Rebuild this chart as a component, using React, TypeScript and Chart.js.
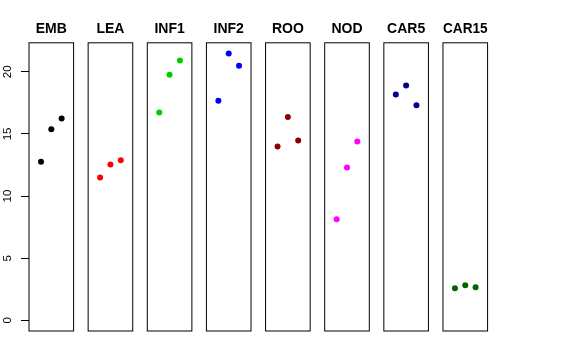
import React, { useEffect, useRef } from "react";
import { Chart, registerables } from "chart.js";

Chart.register(...registerables);

const FAMILY = "'Liberation Sans', Arial, Helvetica, sans-serif";

const panels = ["EMB", "LEA", "INF1", "INF2", "ROO", "NOD", "CAR5", "CAR15"];
const colors = ["#000000", "#FF0000", "#00CD00", "#0000FF", "#8B0000", "#FF00FF", "#00008B", "#006400"];
const positions = [1, 2, 3];

const EMB = [12.76, 15.39, 16.25];
const LEA = [11.49, 12.54, 12.89];
const INF1 = [16.73, 19.77, 20.92];
const INF2 = [17.67, 21.48, 20.49];
const ROO = [13.99, 16.36, 14.47];
const NOD = [8.14, 12.3, 14.39];
const CAR5 = [18.18, 18.91, 17.32];
const CAR15 = [2.58, 2.82, 2.66];

const values = [EMB, LEA, INF1, INF2, ROO, NOD, CAR5, CAR15];
const yTicks = [0, 5, 10, 15, 20];

const W = 576;
const H = 360;
const FIRST_LEFT = 29;
const STEP = 59.14;
const PANEL_W = 44.6;
const TOP_PAD = 21;
const BOTTOM = 331;

const dataMax = Math.max(...values.flat());
const yMin = 0 - 0.04 * dataMax;
const yMax = dataMax + 0.04 * dataMax;

const boxPlugin = {
  id: "panelBox",
  afterDraw(chart: any) {
    const { ctx, chartArea } = chart;
    const { left, top, right, bottom } = chartArea;
    ctx.save();
    ctx.strokeStyle = "#000";
    ctx.lineWidth = 1;
    ctx.strokeRect(left, top, right - left, bottom - top);
    ctx.restore();
  },
};

function Panel({ index }: { index: number }) {
  const ref = useRef<HTMLCanvasElement>(null);
  useEffect(() => {
    const left = FIRST_LEFT + STEP * index;
    const right = W - (left + PANEL_W);
    const first = index === 0;
    const chart = new Chart(ref.current as HTMLCanvasElement, {
      type: "scatter",
      data: {
        datasets: [
          {
            data: positions.map((x, j) => ({ x, y: values[index][j] })),
            backgroundColor: colors[index],
            borderColor: colors[index],
            pointRadius: 3,
            pointHoverRadius: 3,
            borderWidth: 0,
          },
        ],
      },
      options: {
        responsive: false,
        animation: false,
        events: [],
        layout: {
          padding: { left: first ? 0 : left, right, top: TOP_PAD, bottom: H - BOTTOM },
        },
        plugins: {
          legend: { display: false },
          tooltip: { enabled: false },
          title: {
            display: true,
            text: panels[index],
            fullSize: false,
            color: "#000",
            font: { size: 14, weight: "bold", family: FAMILY, lineHeight: 1.2 },
            padding: { top: 0, bottom: 5 },
          },
        },
        scales: {
          x: { type: "linear", display: false, min: -0.16, max: 4.16 },
          y: {
            display: first,
            min: yMin,
            max: yMax,
            afterFit: (s: any) => {
              if (first) s.width = FIRST_LEFT;
            },
            afterBuildTicks: (s: any) => {
              s.ticks = yTicks.map((v) => ({ value: v }));
            },
            grid: { drawOnChartArea: false, drawTicks: true, tickLength: 8, color: "#000" },
            border: { display: false },
            ticks: {
              minRotation: 90,
              maxRotation: 90,
              crossAlign: "center",
              padding: 6.5,
              color: "#000",
              font: { size: 11.5, family: FAMILY },
            },
          },
        },
      } as any,
      plugins: [boxPlugin],
    });
    return () => chart.destroy();
  }, [index]);
  return (
    <canvas
      ref={ref}
      width={W}
      height={H}
      style={{ position: "absolute", left: 0, top: 0, width: W, height: H }}
    />
  );
}

export default function App() {
  return (
    <div style={{ position: "absolute", left: 0, top: 0, width: W, height: H, background: "#fff" }}>
      {panels.map((_, i) => (
        <Panel key={i} index={i} />
      ))}
    </div>
  );
}
